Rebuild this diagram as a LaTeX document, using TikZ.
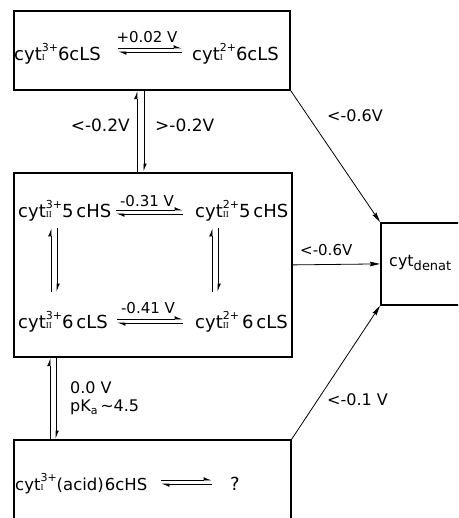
\documentclass[tikz,border=0pt]{standalone}
\usepackage{fontspec}
\setmainfont{DejaVu Sans}
\newfontfamily\romfont{Liberation Serif}
\usetikzlibrary{arrows.meta}
\newcommand\ox[2]{\rlap{\fontsize{9}{9}\selectfont\romfont #2}\raisebox{0.5em}{\fontsize{11}{11}\selectfont #1}}
\begin{document}
\begin{tikzpicture}[x=1pt,y=-1pt,
  box/.style={draw,line width=1.8pt,inner sep=0pt,anchor=north west},
  txt/.style={inner sep=0pt,anchor=base west,font=\fontsize{18}{20}\selectfont},
  lbl/.style={inner sep=0pt,anchor=base west,font=\fontsize{15}{18}\selectfont},
  harp/.style={line width=0.8pt,-{Latex[harpoon,length=7pt,width=6pt]}},
  conn/.style={line width=0.8pt,-{Stealth[length=10pt,width=4.5pt,inset=1pt]}}]
\useasboundingbox (0,0) rectangle (458,518);
\clip (0,0) rectangle (458,518);
% boxes
\node[box,minimum width=276pt,minimum height=79pt] (topbox) at (13,10) {};
\node[box,minimum width=278pt,minimum height=184pt] (midbox) at (13,172) {};
\node[box,minimum width=277pt,minimum height=110pt] (botbox) at (13,439) {};
\node[box,minimum width=110pt,minimum height=82pt] (denat) at (380,222) {};
% texts
\node[txt] (t1) at (14,61) {cyt\ox{3+}{I}6cLS};
\node[txt] (t2) at (192,61) {cyt\ox{2+}{I}6cLS};
\node[txt] (m1) at (18,218) {cyt\ox{3+}{II}5\,cHS};
\node[txt] (m2) at (195,218) {cyt\ox{2+}{II}5\,cHS};
\node[txt] (m3) at (18,328) {cyt\ox{3+}{II}6\,cLS};
\node[txt] (m4) at (195,328) {cyt\ox{2+}{II}\,6\,cLS};
\node[txt,font=\fontsize{16.5}{20}\selectfont] (b1) at (15,490) {cyt\ox{3+}{I}(acid)\kern1pt 6cHS};
\node[txt] (b2) at (230,490) {?};
\node[inner sep=0pt,anchor=base west,font=\fontsize{16}{18}\selectfont] (dn) at (389,266) {cyt\raisebox{-0.25em}{\fontsize{13}{13}\selectfont denat}};
% labels
\node[lbl,anchor=base] (l1) at (147,43) {+0.02 V};
\node[lbl,anchor=base] (l2) at (147,207) {-0.31 V};
\node[lbl,anchor=base] (l3) at (148,313) {-0.41 V};
\node[lbl,font=\fontsize{17}{20}\selectfont,anchor=base east] (l4) at (130,132) {<-0.2V};
\node[lbl,font=\fontsize{17}{20}\selectfont] (l5) at (155,132) {>-0.2V};
\node[lbl,font=\fontsize{16}{18}\selectfont] (l6) at (327,122) {<-0.6V};
\node[lbl] (l7) at (300,255) {<-0.6V};
\node[lbl,font=\fontsize{16}{18}\selectfont] (l8) at (327,405) {<-0.1 V};
\node[lbl,font=\fontsize{16}{18}\selectfont] (l9) at (70,393) {0.0 V};
\node[lbl,font=\fontsize{16}{18}\selectfont] (l10) at (70,411) {pK\raisebox{-0.2em}{\fontsize{11}{11}\selectfont a}\,\textasciitilde 4.5};
% equilibrium arrow end points
\coordinate (ta) at (118,48); \coordinate (tb) at (182,48);
\coordinate (tc) at (182,52); \coordinate (td) at (118,52);
\coordinate (ma) at (116,210); \coordinate (mb) at (183,210);
\coordinate (mc) at (183,214); \coordinate (md) at (116,214);
\coordinate (na) at (117,319); \coordinate (nb) at (183,319);
\coordinate (nc) at (183,323); \coordinate (nd) at (117,323);
\coordinate (ba) at (161,480); \coordinate (bb) at (212,480);
\coordinate (bc) at (212,484); \coordinate (bd) at (161,484);
\coordinate (va) at (51,292); \coordinate (vb) at (51,228);
\coordinate (vc) at (57,228); \coordinate (vd) at (57,292);
\coordinate (wa) at (212,292); \coordinate (wb) at (212,228);
\coordinate (wc) at (218,228); \coordinate (wd) at (218,292);
\draw[harp] (ta) -- (tb); \draw[harp] (tc) -- (td);
\draw[harp] (ma) -- (mb); \draw[harp] (mc) -- (md);
\draw[harp] (na) -- (nb); \draw[harp] (nc) -- (nd);
\draw[harp] (ba) -- (bb); \draw[harp] (bc) -- (bd);
\draw[harp] (va) -- (vb); \draw[harp] (vc) -- (vd);
\draw[harp] (wa) -- (wb); \draw[harp] (wc) -- (wd);
% between boxes
\draw[harp] ([xshift=-16pt]midbox.north) -- ([xshift=-15pt]topbox.south);
\draw[harp] ([xshift=-8pt]topbox.south) -- ([xshift=-9pt]midbox.north);
\draw[harp] ([xshift=37pt]botbox.north west) -- ([xshift=37pt]midbox.south west);
\draw[harp] ([xshift=43pt]midbox.south west) -- ([xshift=43pt]botbox.north west);
% to denatured
\draw[conn] (topbox.south east) -- (denat.north west);
\draw[conn] (midbox.east) -- (denat.west);
\draw[conn] (botbox.north east) -- (denat.south west);
\end{tikzpicture}
\end{document}
